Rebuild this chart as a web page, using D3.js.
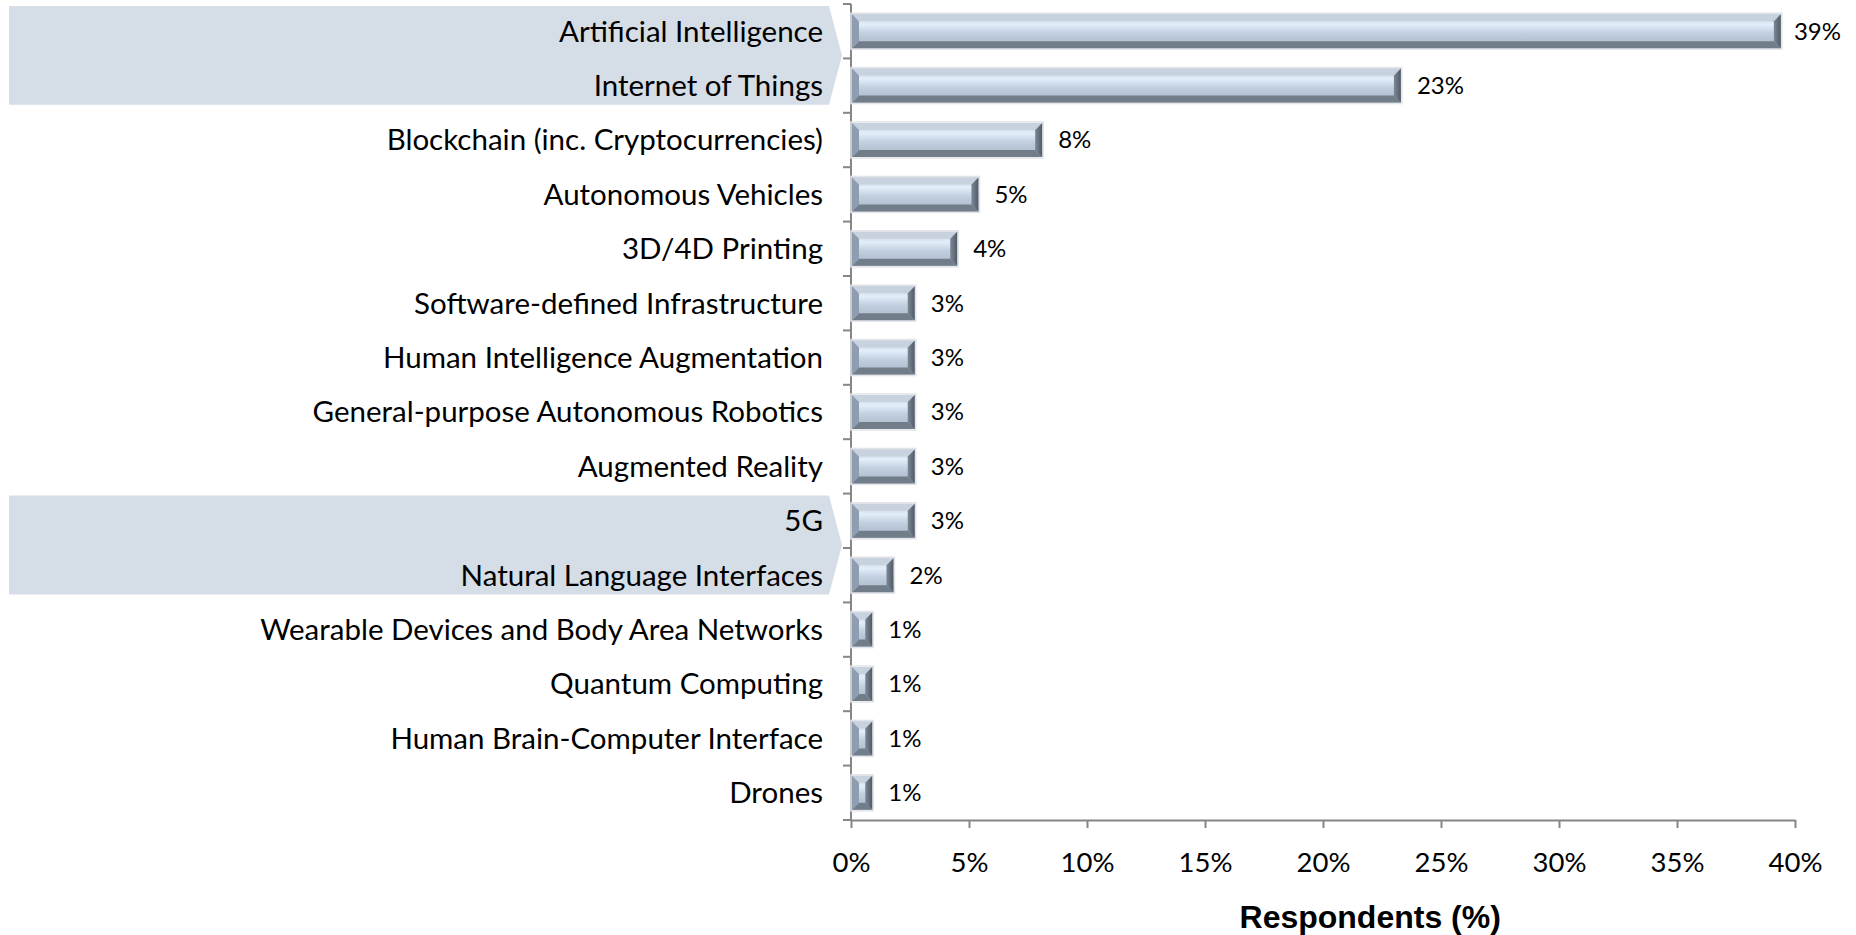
<!DOCTYPE html>
<html>
<head>
<meta charset="utf-8">
<script src="https://cdn.jsdelivr.net/npm/d3@7"></script>
<style>
  html, body { margin: 0; padding: 0; background: #fff; }
  #graf { width: 1856px; height: 935px; }
  .cat { font-family: Lato, 'Open Sans', sans-serif; font-size: 29.5px; fill: #000; }
  .val { font-family: Lato, 'Open Sans', sans-serif; font-size: 24px; fill: #000; }
  .eje text { font-family: Lato, 'Open Sans', sans-serif; font-size: 27.5px; fill: #000; }
  .titulo-eje { font-family: 'Liberation Sans', Arial, sans-serif; font-size: 32px; font-weight: bold; fill: #000; }
</style>
</head>
<body>
<div id="graf"></div>
<script>
// I. Datos
categorias = [
  'Artificial Intelligence',
  'Internet of Things',
  'Blockchain (inc. Cryptocurrencies)',
  'Autonomous Vehicles',
  '3D/4D Printing',
  'Software-defined Infrastructure',
  'Human Intelligence Augmentation',
  'General-purpose Autonomous Robotics',
  'Augmented Reality',
  '5G',
  'Natural Language Interfaces',
  'Wearable Devices and Body Area Networks',
  'Quantum Computing',
  'Human Brain-Computer Interface',
  'Drones'
]
valores = [39.4, 23.3, 8.1, 5.4, 4.5, 2.7, 2.7, 2.7, 2.7, 2.7, 1.8, 0.9, 0.9, 0.9, 0.9]
etiquetas = ['39%', '23%', '8%', '5%', '4%', '3%', '3%', '3%', '3%', '3%', '2%', '1%', '1%', '1%', '1%']
ticksX = [0, 5, 10, 15, 20, 25, 30, 35, 40]
resaltados = [
  ['Artificial Intelligence', 'Internet of Things'],
  ['5G', 'Natural Language Interfaces']
]

// II. Configuración
ancho_total = 1856
alto_total = 935
margins = { top: 4, left: 851, right: 61, bottom: 115 }
ancho = ancho_total - margins.left - margins.right
alto = alto_total - margins.top - margins.bottom

svg = d3.select('#graf').append('svg')
        .attr('width', ancho_total)
        .attr('height', alto_total)

defs = svg.append('defs')
cara = defs.append('linearGradient')
           .attr('id', 'cara')
           .attr('x1', 0).attr('y1', 0).attr('x2', 0).attr('y2', 1)
;[['0%', '#bccad9'], ['30%', '#e3eefa'], ['55%', '#c2d0e0'], ['100%', '#a7b6c8']].forEach(s => {
  cara.append('stop').attr('offset', s[0]).attr('stop-color', s[1])
})
der = defs.append('linearGradient')
          .attr('id', 'der')
          .attr('x1', 0).attr('y1', 0).attr('x2', 1).attr('y2', 0)
;[['0%', '#7d8896'], ['100%', '#515b67']].forEach(s => {
  der.append('stop').attr('offset', s[0]).attr('stop-color', s[1])
})

g = svg.append('g')
       .attr('transform', `translate(${ margins.left }, ${ margins.top })`)

x = d3.scaleLinear()
      .domain([0, 40])
      .range([0, ancho])

y = d3.scaleBand()
      .domain(categorias)
      .range([0, alto])
      .paddingInner(0.375)
      .paddingOuter(0.1875)

// inicio de cada renglón (el hueco completo, no la barra)
slot = c => y(c) - y.step() * y.paddingOuter()

datos = categorias.map((c, i) => ({ cat: c, valor: valores[i], etiqueta: etiquetas[i] }))

// III. Flechas de resaltado
resaltados.forEach(par => {
  arriba = slot(par[0]) + 2
  abajo = slot(par[par.length - 1]) + y.step() - 8
  izq = 9 - margins.left
  g.append('polygon')
   .attr('points', [
     [izq, arriba], [-22, arriba], [-9, (arriba + abajo) / 2], [-22, abajo], [izq, abajo]
   ].map(p => p.join(',')).join(' '))
   .style('fill', '#d5dde6')
})

// IV. Ejes
xAxisCall = d3.axisBottom(x)
              .tickValues(ticksX)
              .tickFormat(d => d + '%')
              .tickSize(8)
              .tickSizeOuter(0)
              .tickPadding(24)
xAxisGroup = g.append('g')
              .attr('class', 'eje')
              .attr('transform', `translate(0, ${ alto })`)
              .call(xAxisCall)
xAxisGroup.selectAll('path, line').style('stroke', '#868686').style('stroke-width', 2)

// marcas del eje Y en los bordes de cada renglón
bordes = categorias.map(c => slot(c)).concat([alto])
g.selectAll('.marcaY')
 .data(bordes)
 .enter()
 .append('line')
   .attr('class', 'marcaY')
   .attr('x1', -8).attr('x2', 0)
   .attr('y1', d => d).attr('y2', d => d)
   .style('stroke', '#868686')
   .style('stroke-width', 2)
g.append('line')
 .attr('x1', 0).attr('x2', 0)
 .attr('y1', 0).attr('y2', alto)
 .style('stroke', '#868686')
 .style('stroke-width', 2)

g.selectAll('.cat')
 .data(datos)
 .enter()
 .append('text')
   .attr('class', 'cat')
   .attr('x', -28)
   .attr('y', d => y(d.cat) + y.bandwidth() / 2)
   .attr('dy', '0.35em')
   .attr('text-anchor', 'end')
   .text(d => d.cat)

// V. Barras con bisel
b = 7
barras = g.selectAll('.barra')
          .data(datos)
          .enter()
          .append('g')
            .attr('class', 'barra')

barras.each(function(d) {
  x0 = x(0) + 1
  x1 = x(d.valor)
  y0 = y(d.cat)
  y1 = y0 + y.bandwidth()
  bb = Math.min(b, (x1 - x0) / 2)
  bar = d3.select(this)
  pts = arr => arr.map(p => p.join(',')).join(' ')
  bar.append('rect')
     .attr('x', x0 - 1).attr('y', y0 - 1)
     .attr('width', x1 - x0 + 2).attr('height', y1 - y0 + 2)
     .style('fill', 'none').style('stroke', '#e2e4e7').style('stroke-width', 1.5)
  bar.append('rect')
     .attr('x', x0).attr('y', y0)
     .attr('width', x1 - x0).attr('height', y1 - y0)
     .style('fill', 'url(#cara)')
  // arriba
  bar.append('polygon')
     .attr('points', pts([[x0, y0], [x1, y0], [x1 - bb, y0 + b], [x0 + bb, y0 + b]]))
     .style('fill', '#c7d2de')
  // abajo
  bar.append('polygon')
     .attr('points', pts([[x0, y1], [x1, y1], [x1 - bb, y1 - b], [x0 + bb, y1 - b]]))
     .style('fill', '#727d8a')
  // izquierda
  bar.append('polygon')
     .attr('points', pts([[x0, y0], [x0 + bb, y0 + b], [x0 + bb, y1 - b], [x0, y1]]))
     .style('fill', '#8e9db0')
  // derecha
  bar.append('polygon')
     .attr('points', pts([[x1, y0], [x1 - bb, y0 + b], [x1 - bb, y1 - b], [x1, y1]]))
     .style('fill', 'url(#der)')
})

// etiquetas de valor (la de 39% se recorre para no salirse del área)
g.selectAll('.val')
 .data(datos)
 .enter()
 .append('text')
   .attr('class', 'val')
   .attr('y', d => y(d.cat) + y.bandwidth() / 2)
   .attr('dy', '0.35em')
   .text(d => d.etiqueta)
   .attr('x', function(d) {
     w = this.getComputedTextLength()
     return Math.min(x(d.valor) + 16, ancho + 46 - w)
   })

// VI. Título del eje
g.append('text')
 .attr('class', 'titulo-eje')
 .attr('x', x(22))
 .attr('y', alto + 108)
 .attr('text-anchor', 'middle')
 .text('Respondents (%)')
</script>
</body>
</html>
